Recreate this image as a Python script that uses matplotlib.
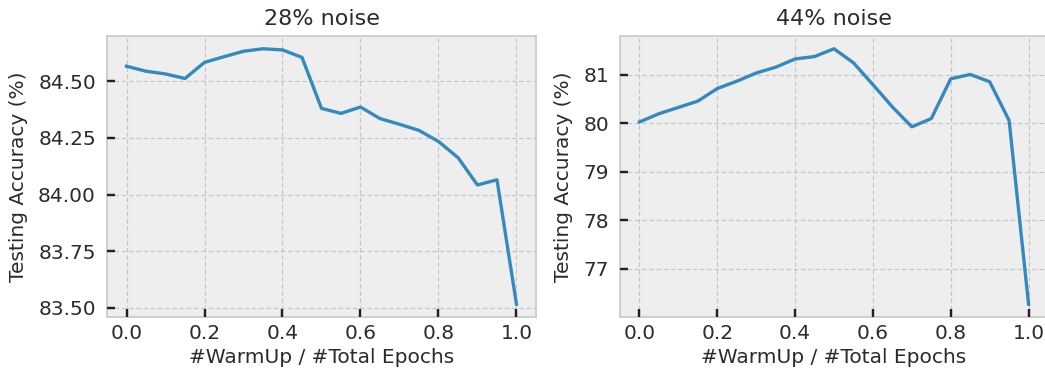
import matplotlib
matplotlib.use('Agg')
import matplotlib.pyplot as plt
from matplotlib.ticker import MultipleLocator, FormatStrFormatter

# warm-up ratio (x axis)
warmup_ratio = [0.0, 0.05, 0.1, 0.15, 0.2, 0.25, 0.3, 0.35, 0.4, 0.45, 0.5,
                0.55, 0.6, 0.65, 0.7, 0.75, 0.8, 0.85, 0.9, 0.95, 1.0]

# testing accuracy for each noise level
acc_28 = [84.566, 84.544, 84.532, 84.512, 84.583, 84.608, 84.632, 84.643, 84.638, 84.605, 84.380,
          84.358, 84.386, 84.335, 84.310, 84.283, 84.234, 84.163, 84.042, 84.065, 83.516]
acc_44 = [80.03, 80.20, 80.33, 80.46, 80.72, 80.87, 81.04, 81.16, 81.33, 81.38, 81.54,
          81.25, 80.80, 80.34, 79.93, 80.10, 80.92, 81.01, 80.86, 80.06, 76.27]

titles = ['28% noise', '44% noise']

plt.style.use('bmh')
plt.rcParams['text.color'] = '#2b2b2b'
plt.rcParams['axes.labelcolor'] = '#2b2b2b'

fig = plt.figure(figsize=(10.45, 3.79), dpi=100)
ax1 = fig.add_axes([0.1024, 0.1636, 0.4105, 0.7414])
ax2 = fig.add_axes([0.5933, 0.1636, 0.4096, 0.7414])

for ax, acc, title in zip([ax1, ax2], [acc_28, acc_44], titles):
    ax.plot(warmup_ratio, acc, color='#348ABD', linewidth=2.4, zorder=3)
    ax.set_title(title, fontsize=16, pad=8)
    ax.set_xlabel('#WarmUp / #Total Epochs', fontsize=14.5, labelpad=4)
    ax.set_ylabel('Testing Accuracy (%)', fontsize=14.5, labelpad=7)
    ax.tick_params(labelsize=14.5, labelcolor='#2b2b2b', direction='in',
                   length=6, width=1.6, color='#222222')
    ax.tick_params(axis='y', pad=8)
    ax.tick_params(axis='x', pad=5)
    ax.grid(True, linestyle=(0, (4, 2.5)), linewidth=0.8, color='#c4c4c4')
    for sp in ax.spines.values():
        sp.set_color('#c8c8c8')
        sp.set_linewidth(1.2)

ax1.yaxis.set_major_locator(MultipleLocator(0.25))
ax1.yaxis.set_major_formatter(FormatStrFormatter('%.2f'))

# draw the inward tick marks at the axis tick locations
for ax in (ax1, ax2):
    x0, x1 = ax.get_xlim()
    y0, y1 = ax.get_ylim()
    xt = [t for t in ax.get_xticks() if x0 <= t <= x1]
    yt = [t for t in ax.get_yticks() if y0 <= t <= y1]
    ax.plot(xt, [0] * len(xt), transform=ax.get_xaxis_transform(), linestyle='',
            marker=2, markersize=6, markeredgewidth=1.6, color='#222222',
            clip_on=False, zorder=4)
    ax.plot([0] * len(yt), yt, transform=ax.get_yaxis_transform(), linestyle='',
            marker=1, markersize=6, markeredgewidth=1.6, color='#222222',
            clip_on=False, zorder=4)
    ax.set_xlim(x0, x1)
    ax.set_ylim(y0, y1)

fig.savefig('out.png', dpi=100)
